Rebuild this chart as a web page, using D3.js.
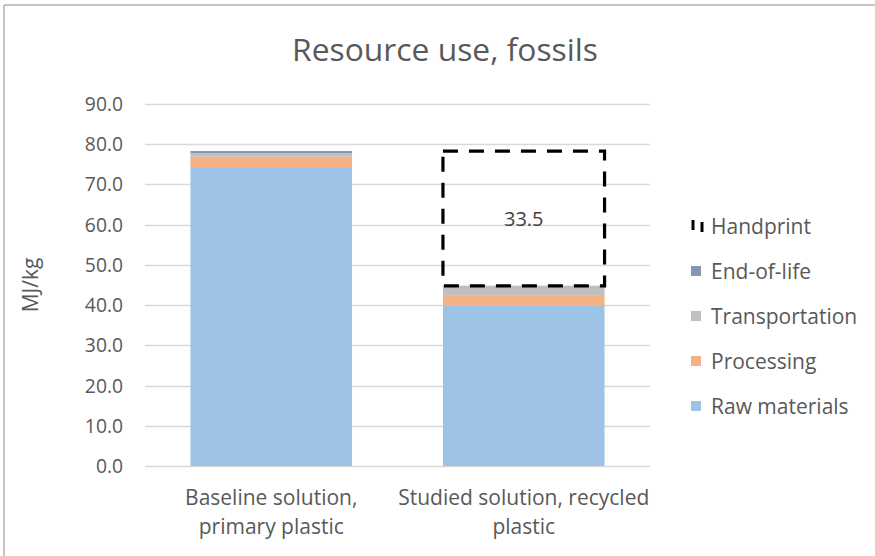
<!DOCTYPE html>
<html><head><meta charset="utf-8">
<script src="https://cdn.jsdelivr.net/npm/d3@7"></script>
<style>body{margin:0;background:#fff}svg{display:block;font-family:"Open Sans",sans-serif}</style>
</head><body>
<svg id="c" width="875" height="556"></svg>
<script>
const categories = [["Baseline solution,","primary plastic"],["Studied solution, recycled","plastic"]];
const seriesNames = ["Raw materials","Processing","Transportation","End-of-life"];
const rawMaterials = [74.3, 39.8];
const processing = [2.6, 2.5];
const transportation = [0.85, 2.4];
const endOfLife = [0.55, 0.1];
const handprint = [0, 33.5];
const yTicks = [0,10,20,30,40,50,60,70,80,90];
const colors = ["#9DC3E6","#F4B183","#BFBFBF","#8497B0"];

const svg = d3.select("#c");
// outer frame
svg.append("line").attr("x1",4).attr("x2",875).attr("y1",5).attr("y2",5).attr("stroke","#8c8c8c").attr("stroke-width",1);
svg.append("line").attr("x1",4).attr("x2",4).attr("y1",5).attr("y2",556).attr("stroke","#8c8c8c").attr("stroke-width",1);

const y = d3.scaleLinear().domain([0,90]).range([466,104]);
const x = d3.scaleBand().domain(d3.range(categories.length)).range([145,650]).padding(0);
const bw = x.bandwidth()*0.64;

// grid
svg.append("g").selectAll("line").data(yTicks).join("line")
  .attr("x1",145).attr("x2",650).attr("y1",d=>Math.round(y(d))+0.5).attr("y2",d=>Math.round(y(d))+0.5)
  .attr("stroke","#D9D9D9").attr("stroke-width",1.3);
// tick labels
svg.append("g").selectAll("text").data(yTicks).join("text")
  .attr("x",123).attr("y",d=>y(d)).attr("dy","0.36em").attr("text-anchor","end")
  .attr("font-size",19.3).attr("fill","#595959").text(d=>d.toFixed(1));

// stacked data
const rows = categories.map((c,i)=>({i, "Raw materials":rawMaterials[i], "Processing":processing[i], "Transportation":transportation[i], "End-of-life":endOfLife[i]}));
const stack = d3.stack().keys(seriesNames)(rows);
stack.forEach((layer,k)=>{
  svg.append("g").attr("fill",colors[k]).selectAll("rect").data(layer).join("rect")
    .attr("x",d=>x(d.data.i)+(x.bandwidth()-bw)/2).attr("width",bw)
    .attr("y",d=>y(d[1])).attr("height",d=>y(d[0])-y(d[1]));
});
// handprint
const totals = rows.map(r=>seriesNames.reduce((s,k)=>s+r[k],0));
handprint.forEach((h,i)=>{
  if(!h) return;
  const x0 = x(i)+(x.bandwidth()-bw)/2;
  svg.append("rect").attr("x",x0).attr("width",bw)
    .attr("y",y(totals[i]+h)).attr("height",y(totals[i])-y(totals[i]+h))
    .attr("fill","none").attr("stroke","#000").attr("stroke-width",3.2).attr("stroke-dasharray","15,11");
  svg.append("text").attr("x",x0+bw/2).attr("y",y(totals[i]+h/2)).attr("dy","0.36em")
    .attr("text-anchor","middle").attr("font-size",20).attr("fill","#404040").text(h.toFixed(1));
});

// x labels
categories.forEach((c,i)=>{
  c.forEach((line,j)=>{
    svg.append("text").attr("x",x(i)+x.bandwidth()/2).attr("y",505+j*29)
      .attr("text-anchor","middle").attr("font-size",21).attr("fill","#595959").text(line);
  });
});

// y title
svg.append("text").attr("transform","translate(38,285) rotate(-90)").attr("text-anchor","middle")
  .attr("font-size",21).attr("fill","#595959").text("MJ/kg");
// title
svg.append("text").attr("x",445).attr("y",61).attr("text-anchor","middle")
  .attr("font-size",31.8).attr("fill","#595959").text("Resource use, fossils");

// legend
const legendItems = [{name:"Handprint",hp:true},{name:"End-of-life",c:colors[3]},{name:"Transportation",c:colors[2]},{name:"Processing",c:colors[1]},{name:"Raw materials",c:colors[0]}];
const lg = svg.append("g");
legendItems.forEach((d,k)=>{
  const cy = 226 + k*45;
  if(d.hp){
    lg.append("line").attr("x1",693).attr("x2",693).attr("y1",cy-6).attr("y2",cy+4).attr("stroke","#000").attr("stroke-width",3);
    lg.append("line").attr("x1",702).attr("x2",702).attr("y1",cy-4).attr("y2",cy+6).attr("stroke","#000").attr("stroke-width",3);
  } else {
    lg.append("rect").attr("x",691).attr("y",cy-5).attr("width",10).attr("height",10).attr("fill",d.c);
  }
  lg.append("text").attr("x",711).attr("y",cy).attr("dy","0.36em").attr("font-size",21).attr("fill","#595959").text(d.name);
});
</script>
</body></html>
